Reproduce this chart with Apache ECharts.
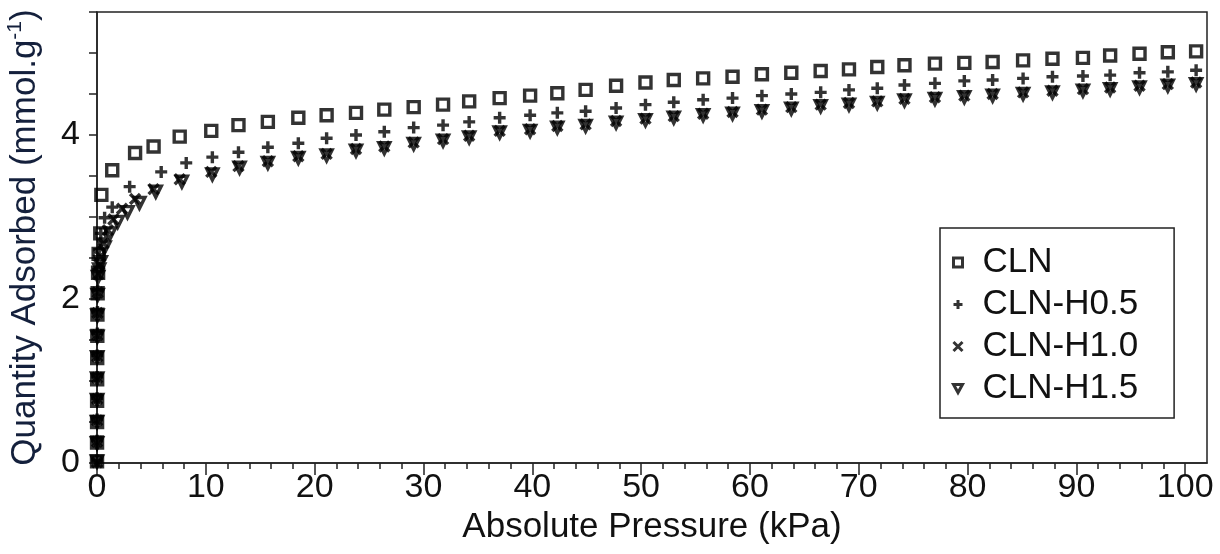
<!DOCTYPE html>
<html>
<head>
<meta charset="utf-8">
<title>CO2 adsorption isotherms</title>
<script src="https://cdn.jsdelivr.net/npm/echarts@6/dist/echarts.min.js"></script>
<style>
  html, body { margin: 0; padding: 0; background: #ffffff; }
  #chart { width: 1220px; height: 554px; }
</style>
</head>
<body>
<div id="chart"></div>
<script>
// Sample names shown in the legend
const seriesNames = ['CLN', 'CLN-H0.5', 'CLN-H1.0', 'CLN-H1.5'];

// Axis tick labels
const xTickValues = [0, 10, 20, 30, 40, 50, 60, 70, 80, 90, 100];
const yTickValues = [0, 2, 4];

// CLN: absolute pressure (kPa) and quantity adsorbed (mmol/g)
const clnPressure = [0.002, 0.004, 0.007, 0.01, 0.015, 0.02, 0.03, 0.04, 0.06, 0.1, 0.15, 0.3,
  0.4, 1.4, 3.5, 5.2, 7.6, 10.5, 13.0, 15.7, 18.5, 21.1, 23.8, 26.4, 29.1, 31.8, 34.2, 37.0,
  39.8, 42.3, 44.9, 47.7, 50.4, 53.0, 55.7, 58.4, 61.1, 63.8, 66.5, 69.1, 71.7, 74.2, 77.0,
  79.7, 82.3, 85.1, 87.8, 90.6, 93.1, 95.8, 98.4, 101.0];
const clnQuantity = [0.02, 0.25, 0.5, 0.76, 1.02, 1.28, 1.55, 1.81, 2.07, 2.32, 2.55, 2.8,
  3.27, 3.57, 3.78, 3.86, 3.98, 4.05, 4.12, 4.16, 4.21, 4.24, 4.27, 4.31, 4.34, 4.37, 4.41, 4.45,
  4.48, 4.51, 4.55, 4.60, 4.64, 4.67, 4.69, 4.71, 4.74, 4.76, 4.78, 4.80, 4.83, 4.85, 4.87,
  4.88, 4.89, 4.91, 4.93, 4.94, 4.97, 4.99, 5.01, 5.02];

// CLN-H0.5
const h05Pressure = [0.002, 0.004, 0.007, 0.01, 0.015, 0.02, 0.03, 0.04, 0.06, 0.1, 0.2, 0.35,
  0.7, 1.4, 3.0, 5.9, 8.2, 10.6, 13.0, 15.7, 18.5, 21.1, 23.8, 26.4, 29.1, 31.8, 34.2, 37.0,
  39.8, 42.3, 44.9, 47.7, 50.4, 53.0, 55.7, 58.4, 61.1, 63.8, 66.5, 69.1, 71.7, 74.2, 77.0,
  79.7, 82.3, 85.1, 87.8, 90.6, 93.1, 95.8, 98.4, 101.0];
const h05Quantity = [0.03, 0.27, 0.53, 0.79, 1.05, 1.31, 1.58, 1.84, 2.1, 2.36, 2.6, 2.8,
  2.99, 3.12, 3.37, 3.55, 3.66, 3.73, 3.79, 3.85, 3.90, 3.96, 4.00, 4.04, 4.09, 4.12, 4.16, 4.21,
  4.24, 4.27, 4.29, 4.33, 4.37, 4.40, 4.43, 4.45, 4.48, 4.50, 4.52, 4.55, 4.57, 4.61, 4.63,
  4.66, 4.67, 4.69, 4.71, 4.72, 4.73, 4.76, 4.77, 4.79];

// CLN-H1.0
const h10Pressure = [0.002, 0.004, 0.007, 0.01, 0.015, 0.02, 0.03, 0.04, 0.06, 0.1, 0.2,
  0.3, 0.6, 1.0, 1.5, 2.3, 3.5, 5.2, 7.6, 10.5, 13.0, 15.7, 18.5, 21.1, 23.8, 26.4, 29.1, 31.8,
  34.2, 37.0, 39.8, 42.3, 44.9, 47.7, 50.4, 53.0, 55.7, 58.4, 61.1, 63.8, 66.5, 69.1, 71.7,
  74.2, 77.0, 79.7, 82.3, 85.1, 87.8, 90.6, 93.1, 95.8, 98.4, 101.0];
const h10Quantity = [0.01, 0.26, 0.52, 0.78, 1.04, 1.3, 1.56, 1.83, 2.08, 2.3, 2.42,
  2.52, 2.68, 2.84, 2.97, 3.1, 3.22, 3.34, 3.46, 3.55, 3.62, 3.68, 3.74, 3.77, 3.83, 3.86, 3.91, 3.95,
  3.99, 4.05, 4.07, 4.11, 4.13, 4.17, 4.20, 4.23, 4.26, 4.28, 4.31, 4.34, 4.37, 4.39, 4.41,
  4.44, 4.46, 4.48, 4.50, 4.52, 4.54, 4.56, 4.58, 4.60, 4.62, 4.64];

// CLN-H1.5
const h15Pressure = [0.002, 0.004, 0.007, 0.01, 0.015, 0.02, 0.03, 0.04, 0.06, 0.1, 0.2,
  0.35, 0.7, 1.2, 1.9, 2.8, 3.9, 5.4, 7.8, 10.6, 13.1, 15.7, 18.5, 21.1, 23.8, 26.4, 29.1, 31.8,
  34.2, 37.0, 39.8, 42.3, 44.9, 47.7, 50.4, 53.0, 55.7, 58.4, 61.1, 63.8, 66.5, 69.1, 71.7,
  74.2, 77.0, 79.7, 82.3, 85.1, 87.8, 90.6, 93.1, 95.8, 98.4, 101.0];
const h15Quantity = [0.02, 0.24, 0.5, 0.77, 1.03, 1.29, 1.54, 1.8, 2.05, 2.27, 2.36,
  2.45, 2.63, 2.8, 2.94, 3.06, 3.17, 3.31, 3.43, 3.52, 3.6, 3.66, 3.72, 3.75, 3.81, 3.84, 3.89, 3.93,
  3.97, 4.03, 4.05, 4.09, 4.11, 4.15, 4.18, 4.21, 4.24, 4.26, 4.29, 4.32, 4.35, 4.37, 4.39,
  4.42, 4.44, 4.46, 4.48, 4.50, 4.52, 4.54, 4.56, 4.58, 4.60, 4.62];

const pairs = (xs, ys) => xs.map((x, i) => [x, ys[i]]);

// Open marker outlines drawn as stroked paths
const markers = {
  square: 'path://M0,0L10,0L10,10L0,10Z',
  plus: 'path://M5,0L5,10M0,5L10,5',
  cross: 'path://M0,0L10,10M10,0L0,10',
  triangleDown: 'path://M0,0L10,0L5,9Z'
};

const FONT = 'Liberation Sans, Arial, Helvetica, sans-serif';
const INK = '#111111';
const MARK_STYLE = { color: 'rgba(0,0,0,0)', borderColor: '#000', borderWidth: 3.4 };

// Minor tick positions between the labelled ones
const xMinorTicks = [];
for (let v = 2; v < 102; v += 2) if (v % 10 !== 0) xMinorTicks.push(v);

function scatter(name, data, symbol, size) {
  return {
    name: name,
    type: 'scatter',
    data: data,
    symbol: symbol,
    symbolSize: size,
    itemStyle: MARK_STYLE,
    emphasis: { disabled: true },
    silent: true,
    z: 3
  };
}

const chart = echarts.init(document.getElementById('chart'), null, { renderer: 'canvas' });

chart.setOption({
  animation: false,
  backgroundColor: '#ffffff',
  grid: {
    left: 97, right: 13, top: 12, bottom: 91,
    outerBoundsMode: 'none',
    containLabel: false,
    show: true, borderColor: '#222', borderWidth: 1.5, backgroundColor: 'transparent'
  },
  xAxis: [{
    type: 'value',
    min: 0, max: 102,
    name: 'Absolute Pressure (kPa)',
    nameLocation: 'middle',
    nameGap: 46,
    nameTextStyle: { fontFamily: FONT, fontSize: 35, color: INK },
    axisLine: { show: true, lineStyle: { color: '#222', width: 1.5 } },
    axisTick: { show: true, inside: false, length: 12, customValues: xTickValues, lineStyle: { color: '#222', width: 1.5 } },
    axisLabel: { customValues: xTickValues, margin: 8, fontFamily: FONT, fontSize: 34, color: INK },
    splitLine: { show: false }
  }, {
    type: 'value',
    min: 0, max: 102,
    position: 'bottom',
    axisLine: { show: false },
    axisTick: { show: true, inside: false, length: 6, customValues: xMinorTicks, lineStyle: { color: '#222', width: 1.5 } },
    axisLabel: { show: false },
    splitLine: { show: false }
  }],
  yAxis: {
    type: 'value',
    min: 0, max: 5.5, interval: 0.5,
    name: 'Quantity Adsorbed (mmol.g{sup|-1})',
    nameLocation: 'middle',
    nameGap: 52,
    nameTextStyle: {
      fontFamily: FONT, fontSize: 35, color: '#14203c', lineHeight: 40,
      rich: { sup: { fontFamily: FONT, fontSize: 21, color: '#14203c', verticalAlign: 'top', lineHeight: 40 } }
    },
    axisLine: { show: true, lineStyle: { color: '#222', width: 1.5 } },
    axisTick: { show: true, inside: false, length: 8, lineStyle: { color: '#222', width: 1.5 } },
    axisLabel: {
      customValues: yTickValues,
      margin: 17, fontFamily: FONT, fontSize: 34, color: INK
    },
    splitLine: { show: false }
  },
  legend: {
    orient: 'vertical',
    left: 940, top: 228,
    data: seriesNames,
    selectedMode: false,
    backgroundColor: '#fff',
    borderColor: '#222', borderWidth: 1.5,
    padding: [17, 36, 12, 12],
    itemWidth: 9, itemHeight: 9,
    itemGap: 7,
    itemStyle: { color: 'rgba(0,0,0,0)', borderColor: '#000', borderWidth: 3 },
    textStyle: { fontFamily: FONT, fontSize: 35, color: INK, padding: [0, 0, 0, 15] }
  },
  series: [
    scatter(seriesNames[0], pairs(clnPressure, clnQuantity), markers.square, 11),
    scatter(seriesNames[1], pairs(h05Pressure, h05Quantity), markers.plus, 12),
    scatter(seriesNames[2], pairs(h10Pressure, h10Quantity), markers.cross, 10),
    scatter(seriesNames[3], pairs(h15Pressure, h15Quantity), markers.triangleDown, 11)
  ]
});
</script>
</body>
</html>
